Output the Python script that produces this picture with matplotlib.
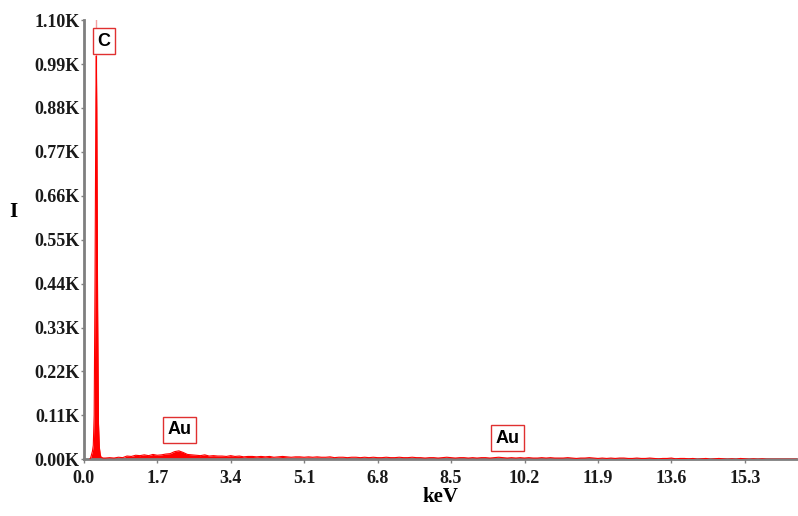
"""EDS spectrum (C / Au) recreated with matplotlib."""
import matplotlib

matplotlib.use("Agg")
import matplotlib.pyplot as plt
from matplotlib.ticker import FuncFormatter

# C K-alpha peak, fine channels (keV, counts)
peak_kev = [0.14, 0.16, 0.18, 0.20, 0.22, 0.24, 0.26, 0.28, 0.29, 0.30, 0.32, 0.34, 0.36, 0.38, 0.40, 0.45]
peak_counts = [0, 4, 12, 20, 35, 110, 450, 900, 1010, 880, 380, 90, 30, 12, 5, 3]

# background channels every 0.1 keV from 0.5 keV
bg_start = 0.5
bg_counts = [
    3, 4, 3, 5, 4,
    8, 7, 10, 9, 11, 9, 12, 10, 11, 13,
    14, 19, 21, 17, 12, 11, 10, 9, 11, 8,
    9, 8, 8, 7, 9, 7, 8, 6, 7, 7,
    6, 7, 6, 7, 5, 6, 7, 6, 5, 6,
    6, 5, 6, 5, 6, 5, 5, 6, 4, 5,
    5, 4, 5, 5, 4, 5, 4, 5, 4, 4,
    5, 4, 4, 5, 4, 4, 5, 4, 4, 3,
    4, 4, 3, 4, 5, 4, 3, 4, 4, 3,
    4, 3, 4, 4, 3, 4, 5, 4, 3, 4,
    3, 4, 3, 4, 3, 3, 4, 3, 4, 3,
    3, 3, 4, 3, 2, 3, 3, 4, 3, 2,
    3, 2, 3, 2, 3, 3, 2, 2, 3, 2,
    2, 3, 2, 1, 2, 2, 3, 1, 2, 2,
    1, 2, 0, 1, 2, 0, 1, 2, 1, 0,
    1, 0, 2, 1, 0, 1, 0, 1, 0, 0,
    0, 0, 0, 0, 0, 0,
]

y_ticks = [0, 110, 220, 330, 440, 550, 660, 770, 880, 990, 1100]
x_ticks = [0.0, 1.7, 3.4, 5.1, 6.8, 8.5, 10.2, 11.9, 13.6, 15.3]
x_max = 16.53

# element markers: (label, energy of box centre, height of box centre)
labels = [("C", 0.46, 1047), ("Au", 2.21, 74), ("Au", 9.80, 53)]
c_line_kev = 0.29

bg_kev = [round(bg_start + 0.1 * i, 2) for i in range(len(bg_counts))]
energy = peak_kev + bg_kev
counts = peak_counts + bg_counts

fig = plt.figure(figsize=(7.98, 5.16), dpi=100)
ax = fig.add_axes([0.105, 0.110, 0.895, 0.851])

red = "#ff0000"
ax.axvline(c_line_kev, color="#f4a0a0", linewidth=1, zorder=1)
ax.fill_between(energy, counts, 0, color=red, linewidth=0, zorder=2)
ax.plot(energy, counts, color=red, linewidth=0.8, zorder=3)

ax.set_xlim(0, x_max)
ax.set_ylim(0, 1100)
ax.set_xticks(x_ticks)
ax.set_yticks(y_ticks)
ax.xaxis.set_major_formatter(FuncFormatter(lambda v, _: f"{v:.1f}"))
ax.yaxis.set_major_formatter(FuncFormatter(lambda v, _: f"{v / 1000:.2f}K"))

for lab in ax.get_xticklabels() + ax.get_yticklabels():
    lab.set_fontfamily("Liberation Serif")
    lab.set_fontweight("bold")
    lab.set_fontsize(13)
    lab.set_color("#1a1a1a")

ax.tick_params(axis="x", length=3, width=1, color="#808080", pad=5)
ax.tick_params(axis="y", length=2, width=1, color="#808080", pad=1)
for side in ("top", "right"):
    ax.spines[side].set_visible(False)
for side in ("left", "bottom"):
    ax.spines[side].set_color("#7f7f7f")
    ax.spines[side].set_linewidth(2)

ax.set_xlabel("keV", fontfamily="Liberation Serif", fontweight="bold", fontsize=15, labelpad=0)
ax.set_ylabel("I", fontfamily="Liberation Serif", fontweight="bold", fontsize=15, rotation=0, va="center")
ax.yaxis.set_label_coords(-0.098, 0.563)

for text, xk, yc in labels:
    ax.text(
        xk, yc, text,
        ha="center", va="center",
        fontfamily="Liberation Sans", fontweight="bold", fontsize=13,
        bbox=dict(boxstyle="square,pad=0.25", facecolor="white", edgecolor="#e03030", linewidth=1),
        zorder=5,
    )

fig.savefig("out.png", dpi=100)
